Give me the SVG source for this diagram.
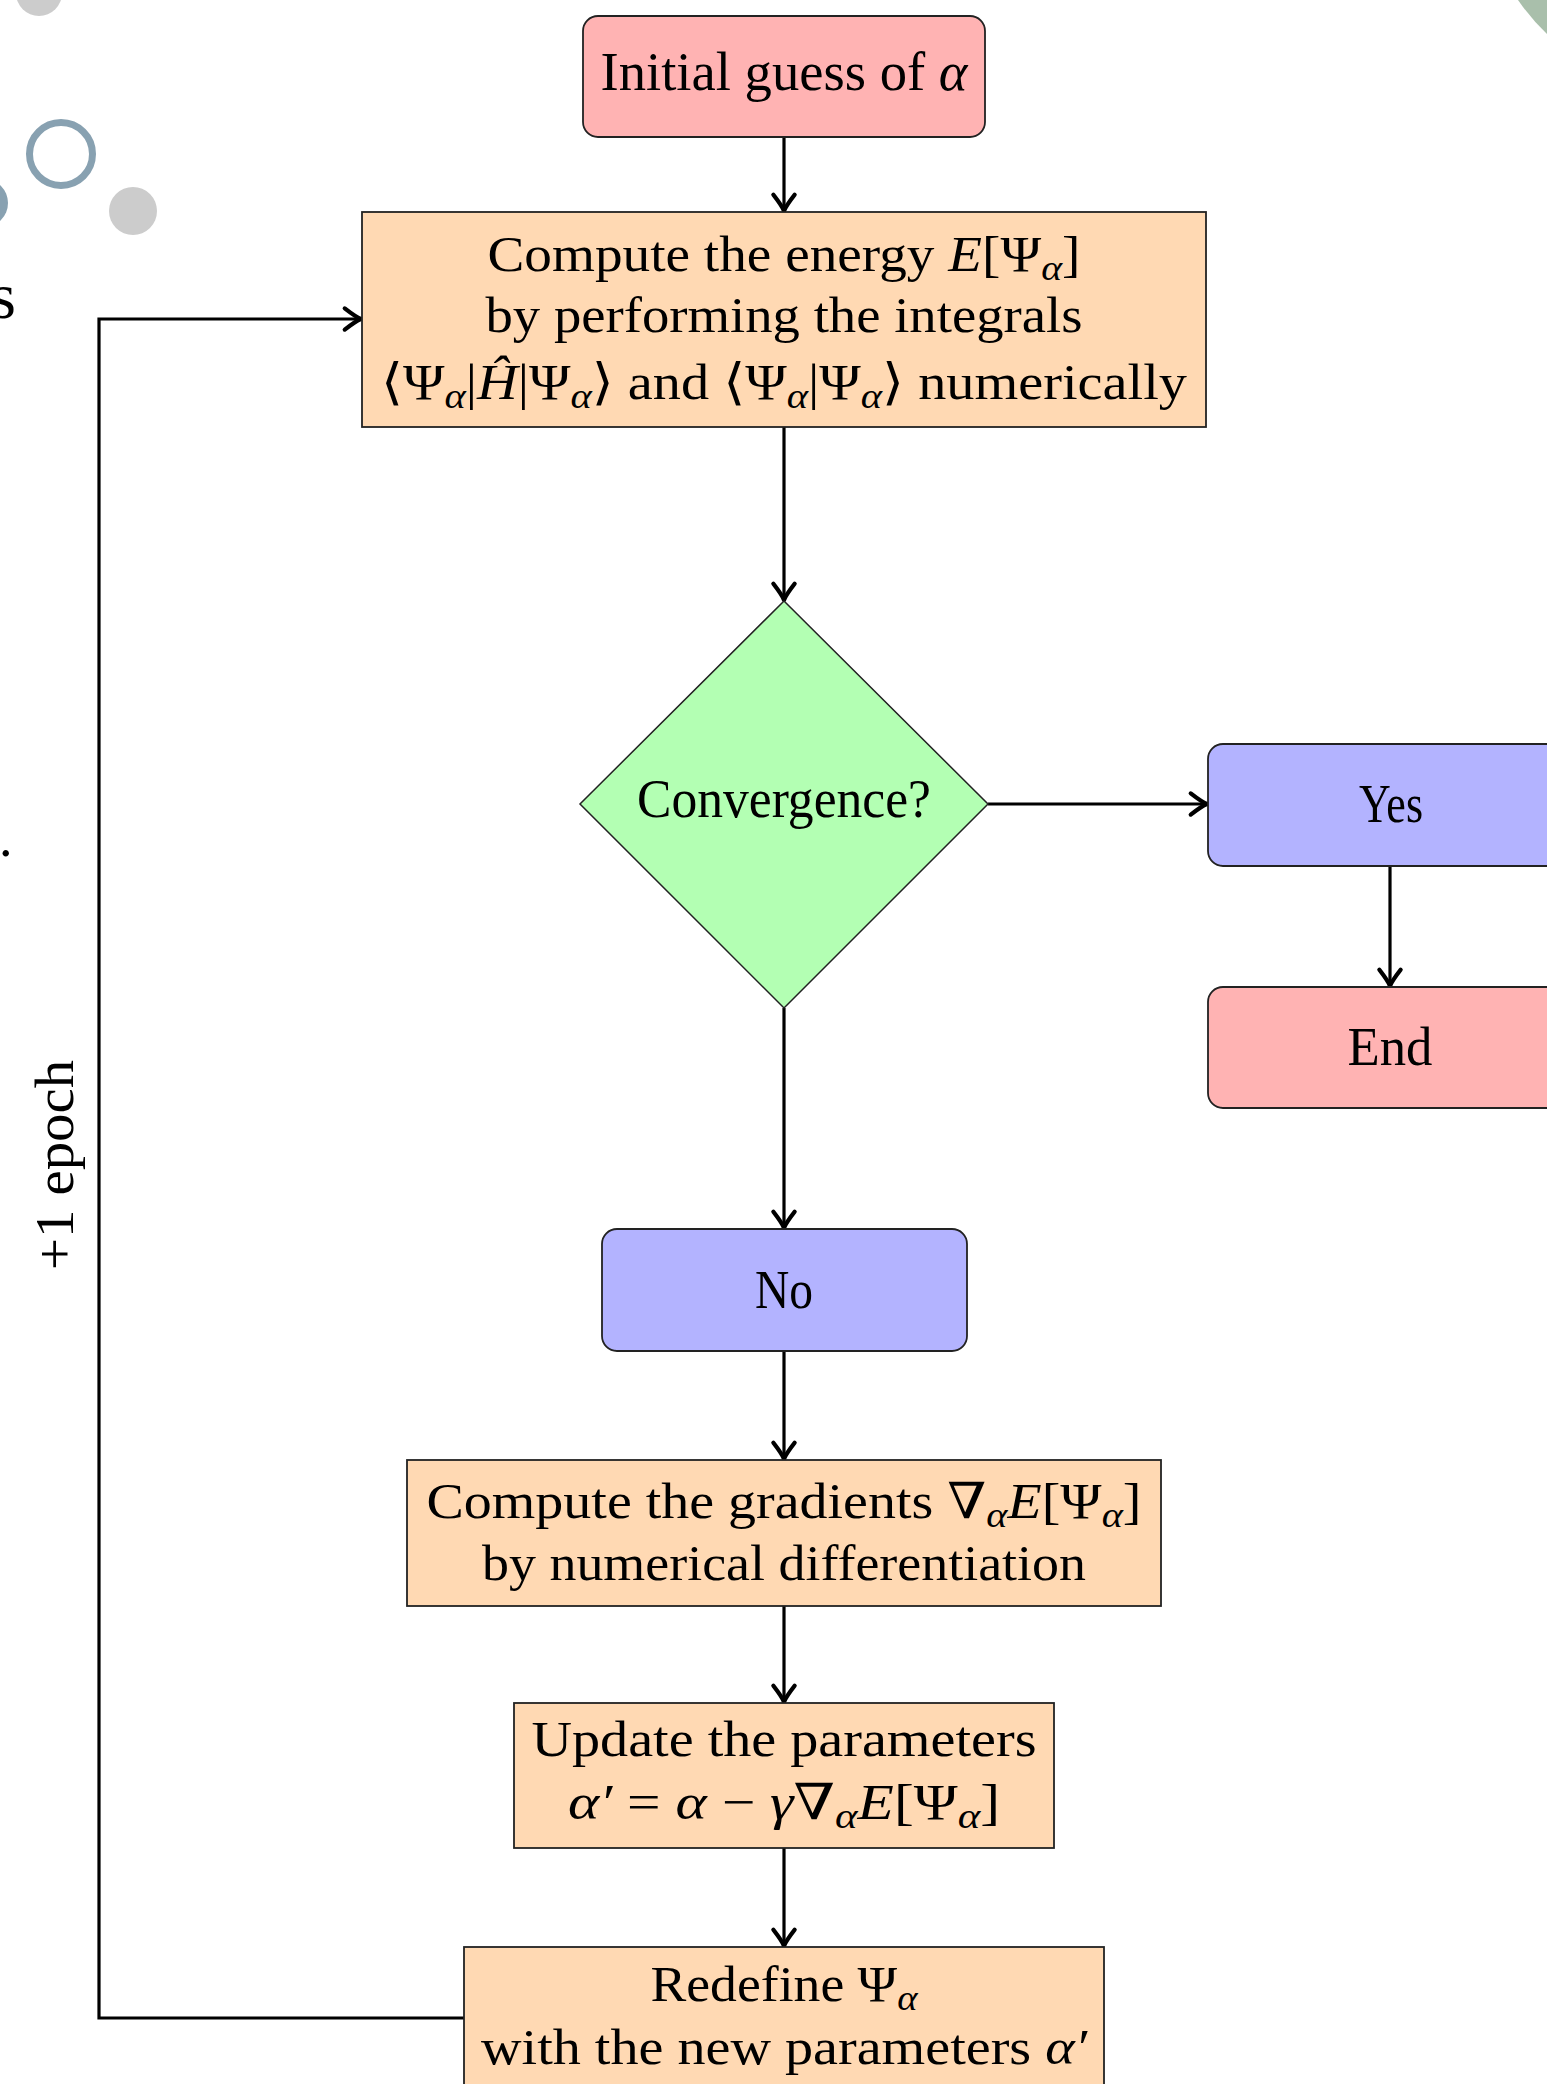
<svg xmlns="http://www.w3.org/2000/svg" width="1547" height="2084" viewBox="0 0 1547 2084">
<style>
.t{font-family:"Liberation Serif","DejaVu Serif",serif;font-size:54px;fill:#000;text-anchor:middle}
.s{font-size:50px}
.m{font-style:italic}
.box{stroke:#222;stroke-width:1.8}
.red{fill:#ffb3b3}
.org{fill:#ffd9b3}
.grn{fill:#b3ffb3}
.blu{fill:#b3b3ff}
.c{fill:none;stroke:#000;stroke-width:3.2}
</style>
<defs>
<marker id="arr" markerUnits="userSpaceOnUse" markerWidth="30" markerHeight="30" viewBox="-16 -12 20 24" refX="0" refY="0" orient="auto">
<path d="M-13,-8.5 Q-4,-1.5 0,0 Q-4,1.5 -13,8.5" fill="none" stroke="#000" stroke-width="3.4" stroke-linecap="round" stroke-linejoin="round"/>
</marker>
</defs>
<rect width="1547" height="2084" fill="#fff"/>
<g id="decor">
<circle cx="39" cy="-7" r="23" fill="#cccccc"/>
<circle cx="61" cy="154" r="31.5" fill="none" stroke="#88a1b1" stroke-width="7"/>
<circle cx="-16" cy="203" r="24" fill="#88a1b1"/>
<circle cx="133" cy="211" r="24" fill="#cccccc"/>
<path d="M1518,0 Q1531,19 1547,34 L1547,0 Z" fill="#a9bfab"/>
<text class="t" x="16" y="318" style="text-anchor:end;font-size:66px">s</text>
<text class="t" x="-1" y="856" style="text-anchor:start">.</text>
</g>
<g id="connectors">
<line class="c" x1="784" y1="137" x2="784" y2="211" marker-end="url(#arr)"/>
<line class="c" x1="784" y1="427" x2="784" y2="600" marker-end="url(#arr)"/>
<line class="c" x1="988" y1="804" x2="1207" y2="804" marker-end="url(#arr)"/>
<line class="c" x1="1390" y1="866" x2="1390" y2="986" marker-end="url(#arr)"/>
<line class="c" x1="784" y1="1008" x2="784" y2="1228" marker-end="url(#arr)"/>
<line class="c" x1="784" y1="1351" x2="784" y2="1459" marker-end="url(#arr)"/>
<line class="c" x1="784" y1="1606" x2="784" y2="1702" marker-end="url(#arr)"/>
<line class="c" x1="784" y1="1848" x2="784" y2="1946" marker-end="url(#arr)"/>
<polyline class="c" points="464,2018 99,2018 99,319 361,319" marker-end="url(#arr)"/>
<text class="t" transform="translate(73,1165) rotate(-90)" textLength="210" lengthAdjust="spacingAndGlyphs">+1 epoch</text>
</g>
<g id="initial">
<rect class="box red" x="583" y="16" width="402" height="121" rx="15"/>
<text class="t" x="784" y="90" textLength="367" lengthAdjust="spacingAndGlyphs">Initial guess of <tspan class="m">α</tspan></text>
</g>
<g id="compute-energy">
<rect class="box org" x="362" y="212" width="844" height="215"/>
<text class="t s" x="784" y="271" textLength="593" lengthAdjust="spacingAndGlyphs">Compute the energy <tspan class="m">E</tspan>[Ψ<tspan class="m" font-size="36" dy="9">α</tspan><tspan dy="-9">]</tspan></text>
<text class="t s" x="784" y="332" textLength="597" lengthAdjust="spacingAndGlyphs">by performing the integrals</text>
<text class="t s" x="784" y="399" textLength="806" lengthAdjust="spacingAndGlyphs">⟨Ψ<tspan class="m" font-size="36" dy="9">α</tspan><tspan dy="-9">|</tspan><tspan class="m">Ĥ</tspan>|Ψ<tspan class="m" font-size="36" dy="9">α</tspan><tspan dy="-9">⟩ and ⟨Ψ</tspan><tspan class="m" font-size="36" dy="9">α</tspan><tspan dy="-9">|Ψ</tspan><tspan class="m" font-size="36" dy="9">α</tspan><tspan dy="-9">⟩ numerically</tspan></text>
</g>
<g id="convergence">
<polygon class="box grn" points="784,601 988,804 784,1008 580,804" style="stroke-width:1.5"/>
<text class="t" x="784" y="817" textLength="294" lengthAdjust="spacingAndGlyphs">Convergence?</text>
</g>
<g id="yes">
<rect class="box blu" x="1208" y="744" width="364" height="122" rx="15"/>
<text class="t" x="1391" y="822" textLength="64" lengthAdjust="spacingAndGlyphs">Yes</text>
</g>
<g id="end">
<rect class="box red" x="1208" y="987" width="364" height="121" rx="15"/>
<text class="t" x="1390" y="1065" textLength="85" lengthAdjust="spacingAndGlyphs">End</text>
</g>
<g id="no">
<rect class="box blu" x="602" y="1229" width="365" height="122" rx="15"/>
<text class="t" x="784" y="1308" textLength="58" lengthAdjust="spacingAndGlyphs">No</text>
</g>
<g id="gradients">
<rect class="box org" x="407" y="1460" width="754" height="146"/>
<text class="t s" x="784" y="1518" textLength="715" lengthAdjust="spacingAndGlyphs">Compute the gradients ∇<tspan class="m" font-size="36" dy="9">α</tspan><tspan class="m" dy="-9">E</tspan>[Ψ<tspan class="m" font-size="36" dy="9">α</tspan><tspan dy="-9">]</tspan></text>
<text class="t s" x="784" y="1580" textLength="604" lengthAdjust="spacingAndGlyphs">by numerical differentiation</text>
</g>
<g id="update">
<rect class="box org" x="514" y="1703" width="540" height="145"/>
<text class="t s" x="784" y="1756" textLength="505" lengthAdjust="spacingAndGlyphs">Update the parameters</text>
<text class="t s" x="784" y="1819" textLength="432" lengthAdjust="spacingAndGlyphs"><tspan class="m">α′</tspan> = <tspan class="m">α</tspan> − <tspan class="m">γ</tspan>∇<tspan class="m" font-size="36" dy="9">α</tspan><tspan class="m" dy="-9">E</tspan>[Ψ<tspan class="m" font-size="36" dy="9">α</tspan><tspan dy="-9">]</tspan></text>
</g>
<g id="redefine">
<rect class="box org" x="464" y="1947" width="640" height="142"/>
<text class="t s" x="784" y="2001" textLength="267" lengthAdjust="spacingAndGlyphs">Redefine Ψ<tspan class="m" font-size="36" dy="9">α</tspan></text>
<text class="t s" x="784" y="2064" textLength="606" lengthAdjust="spacingAndGlyphs">with the new parameters <tspan class="m">α′</tspan></text>
</g>
</svg>
